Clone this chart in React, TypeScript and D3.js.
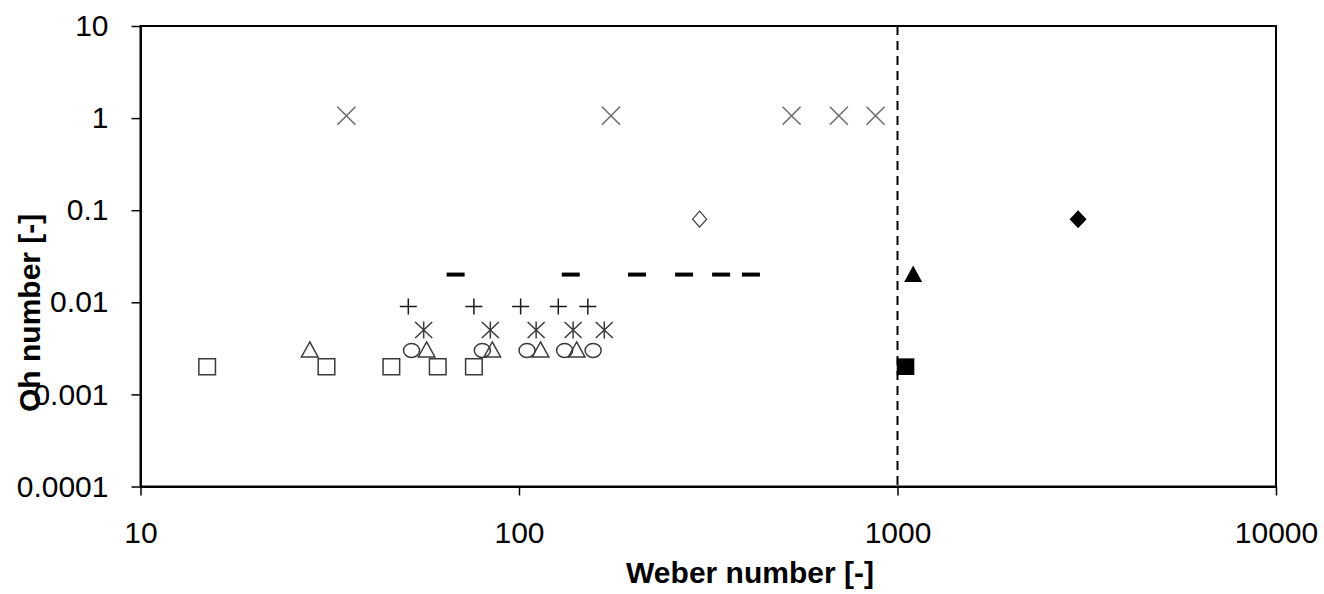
import React, { useEffect, useRef } from 'react';
import * as d3 from 'd3';

// values: Weber number (x) and Oh number (y)
const squaresWe = [15, 31, 46, 61, 76];
const squaresOh = [0.002, 0.002, 0.002, 0.002, 0.002];
const trianglesWe = [28, 57, 85, 114, 142];
const trianglesOh = [0.003, 0.003, 0.003, 0.003, 0.003];
const circlesWe = [52, 80, 105, 132, 157];
const circlesOh = [0.003, 0.003, 0.003, 0.003, 0.003];
const asterisksWe = [56, 84, 111, 139, 168];
const asterisksOh = [0.005, 0.005, 0.005, 0.005, 0.005];
const plusesWe = [51, 76, 101, 127, 152];
const plusesOh = [0.009, 0.009, 0.009, 0.009, 0.009];
const dashesWe = [68, 137, 205, 273, 342, 410];
const dashesOh = [0.02, 0.02, 0.02, 0.02, 0.02, 0.02];
const crossesWe = [35, 175, 525, 700, 875];
const crossesOh = [1.06, 1.06, 1.06, 1.06, 1.06];
const openDiamondWe = [300];
const openDiamondOh = [0.08];
const filledDiamondWe = [3000];
const filledDiamondOh = [0.08];
const filledTriangleWe = [1100];
const filledTriangleOh = [0.02];
const filledSquareWe = [1050];
const filledSquareOh = [0.002];

const criticalWe = 1000;

const xTicks = [10, 100, 1000, 10000];
const yTicks = [0.0001, 0.001, 0.01, 0.1, 1, 10];

const width = 1324;
const height = 594;
const font = '"Liberation Sans", Arial, sans-serif';

// marker outlines around (0,0)
const shapes: Record<string, string> = {
  square: 'M-8.3,-8 H8.3 V8 H-8.3 Z',
  triangle: 'M0,-8.5 L8.3,6.5 L-8.3,6.5 Z',
  circle: 'M-8,0 A8,7 0 1,0 8,0 A8,7 0 1,0 -8,0 Z',
  diamond: 'M0,-8 L7,0 L0,8 L-7,0 Z',
  bigDiamond: 'M0,-9 L8.5,0 L0,9 L-8.5,0 Z',
  bigTriangle: 'M0,-9 L9,7.5 L-9,7.5 Z',
  bigSquare: 'M-8.8,-8.3 H8.8 V8.3 H-8.8 Z',
  plus: 'M-8.5,0 H8.5 M0,-8 V8',
  asterisk: 'M-8.5,-8 L8.5,8 M-8.5,8 L8.5,-8 M0,-8.5 V8.5',
  cross: 'M-9,-9 L9,9 M-9,9 L9,-9',
  dash: 'M-9,0 H9',
};

const App = () => {
  const svgRef = useRef<SVGSVGElement>(null);

  useEffect(() => {
    const svg = d3.select(svgRef.current);
    svg.selectAll('*').remove();

    const x = d3.scaleLog().domain([10, 10000]).range([140.5, 1276]);
    const y = d3.scaleLog().domain([0.0001, 10]).range([486.5, 26]);

    // frame
    svg.append('rect')
      .attr('x', x(10)).attr('y', y(10))
      .attr('width', x(10000) - x(10)).attr('height', y(0.0001) - y(10))
      .attr('fill', 'none').attr('stroke', '#000').attr('stroke-width', 2);

    const yAxis = svg.append('g')
      .attr('transform', `translate(${x(10)},0)`)
      .call(d3.axisLeft(y).tickValues(yTicks).tickFormat(d => String(d)).tickSize(9).tickSizeOuter(0).tickPadding(23));
    const xAxis = svg.append('g')
      .attr('transform', `translate(0,${y(0.0001)})`)
      .call(d3.axisBottom(x).tickValues(xTicks).tickFormat(d => String(d)).tickSize(9).tickSizeOuter(0).tickPadding(26));

    [yAxis, xAxis].forEach(g => {
      g.select('.domain').attr('stroke-width', 2);
      g.selectAll('.tick line').attr('stroke-width', 1.5);
      g.selectAll('.tick text')
        .attr('font-family', font).attr('font-size', 30).attr('fill', '#000');
    });

    // critical Weber number
    svg.append('line')
      .attr('x1', x(criticalWe)).attr('x2', x(criticalWe))
      .attr('y1', y(10)).attr('y2', y(0.0001))
      .attr('stroke', '#000').attr('stroke-width', 2).attr('stroke-dasharray', '9,6');

    const series = [
      { we: squaresWe, oh: squaresOh, shape: 'square', fill: 'none', stroke: '#3a3a3a', sw: 1.5 },
      { we: trianglesWe, oh: trianglesOh, shape: 'triangle', fill: 'none', stroke: '#3a3a3a', sw: 1.5 },
      { we: circlesWe, oh: circlesOh, shape: 'circle', fill: 'none', stroke: '#3a3a3a', sw: 1.5 },
      { we: asterisksWe, oh: asterisksOh, shape: 'asterisk', fill: 'none', stroke: '#3a3a3a', sw: 1.5 },
      { we: plusesWe, oh: plusesOh, shape: 'plus', fill: 'none', stroke: '#1a1a1a', sw: 1.5 },
      { we: dashesWe, oh: dashesOh, shape: 'dash', fill: 'none', stroke: '#000', sw: 4 },
      { we: crossesWe, oh: crossesOh, shape: 'cross', fill: 'none', stroke: '#6a6a6a', sw: 1.5 },
      { we: openDiamondWe, oh: openDiamondOh, shape: 'diamond', fill: 'none', stroke: '#3a3a3a', sw: 1.2 },
      { we: filledDiamondWe, oh: filledDiamondOh, shape: 'bigDiamond', fill: '#000', stroke: 'none', sw: 0 },
      { we: filledTriangleWe, oh: filledTriangleOh, shape: 'bigTriangle', fill: '#000', stroke: 'none', sw: 0 },
      { we: filledSquareWe, oh: filledSquareOh, shape: 'bigSquare', fill: '#000', stroke: 'none', sw: 0 },
    ];

    series.forEach(s => {
      svg.append('g')
        .selectAll('path')
        .data(s.we.map((w, i) => ({ w, o: s.oh[i] })))
        .join('path')
        .attr('transform', d => `translate(${x(d.w)},${y(d.o)})`)
        .attr('d', shapes[s.shape])
        .attr('fill', s.fill)
        .attr('stroke', s.stroke)
        .attr('stroke-width', s.sw);
    });

    // axis titles
    svg.append('text')
      .attr('x', 750).attr('y', 583)
      .attr('text-anchor', 'middle')
      .attr('font-family', font).attr('font-size', 30).attr('font-weight', 'bold')
      .text('Weber number  [-]');

    svg.append('text')
      .attr('transform', 'translate(40,412) rotate(-90)')
      .attr('text-anchor', 'start')
      .attr('font-family', font).attr('font-size', 30).attr('font-weight', 'bold')
      .text('Oh number [-]');
  }, []);

  return (
    <svg ref={svgRef} width={width} height={height}
      style={{ position: 'absolute', left: 0, top: 0, background: '#fff' }} />
  );
};

export default App;
